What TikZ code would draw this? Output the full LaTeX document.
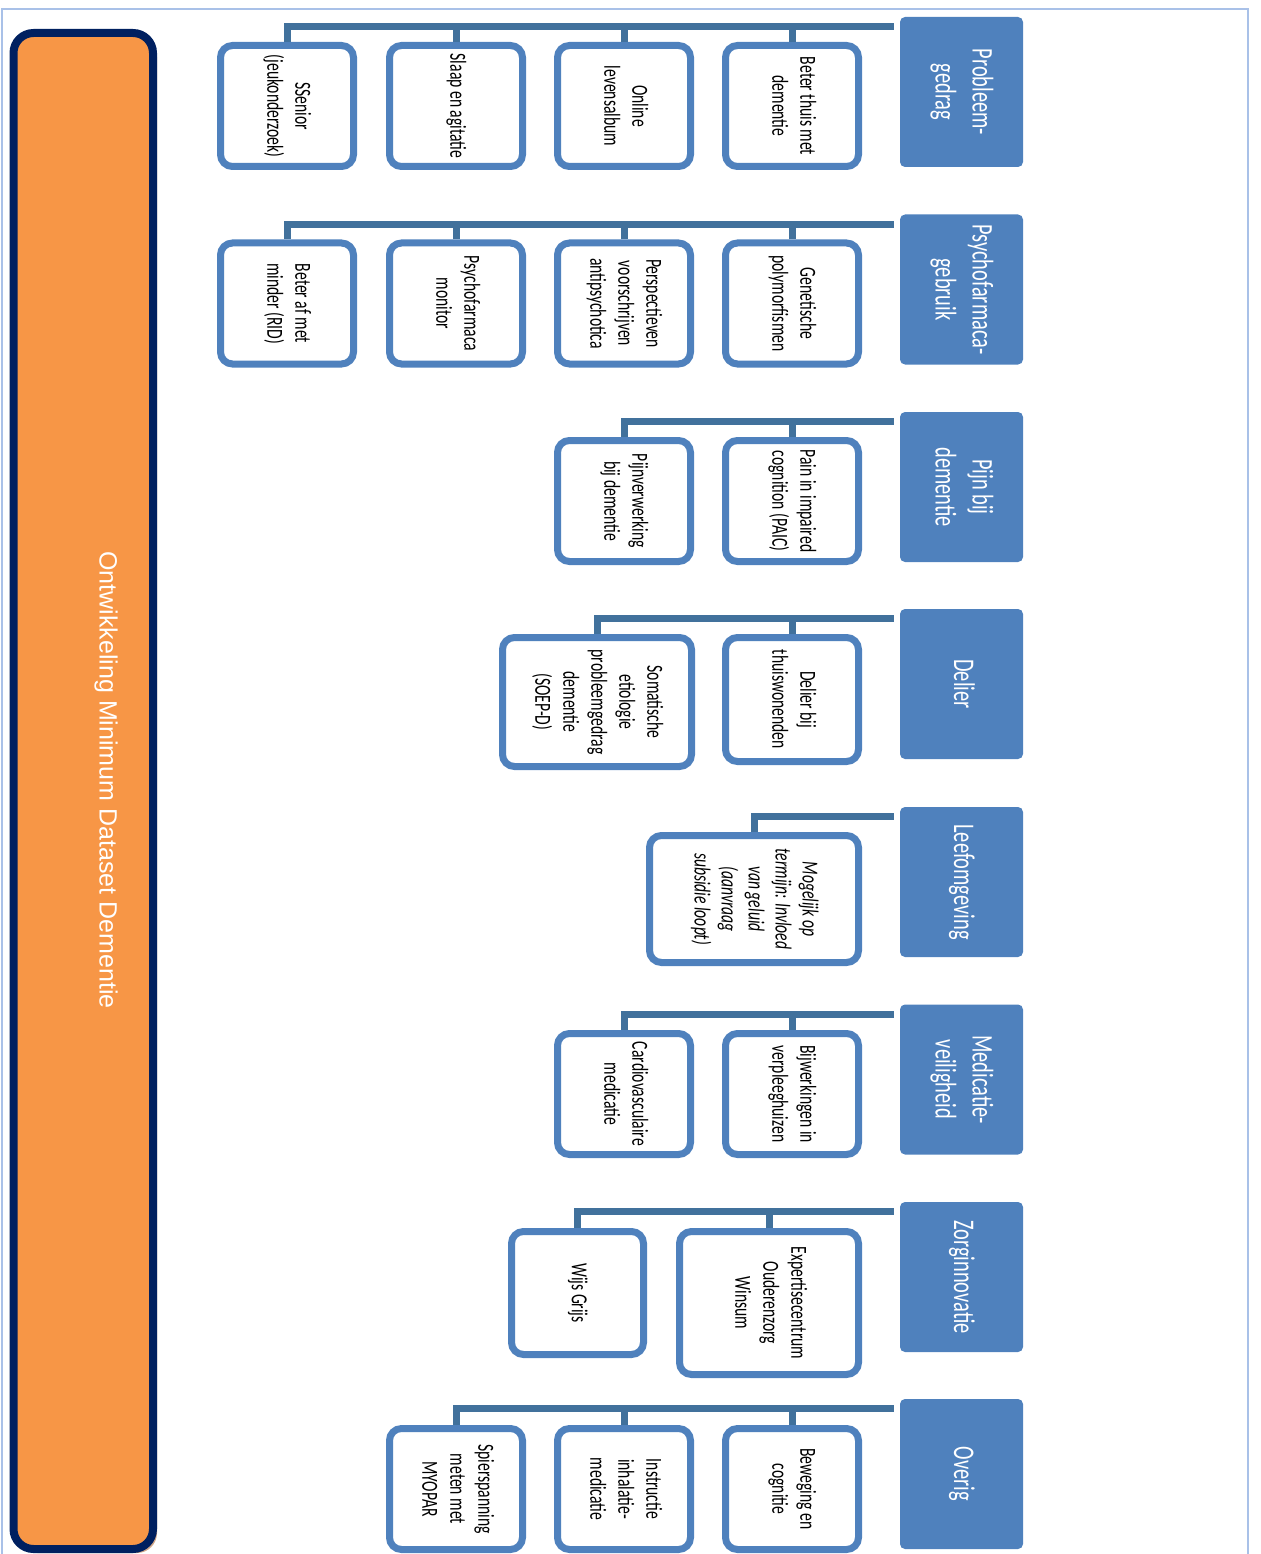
\documentclass[tikz,border=0pt]{standalone}
\usepackage{fontspec}
\setmainfont{Carlito}
\newfontfamily\condfont[FakeStretch=0.68]{Carlito}
\newfontfamily\titlefont{Liberation Sans}
\usetikzlibrary{calc,shadows}
\definecolor{catblue}{HTML}{4F81BD}
\definecolor{connblue}{HTML}{41719C}
\definecolor{frameblue}{HTML}{A9C1E8}
\definecolor{boxorange}{HTML}{F79646}
\definecolor{navyline}{HTML}{002060}
\definecolor{shadowtan}{HTML}{D2A889}
\newcommand{\rottext}[1]{\rotatebox{-90}{\begin{tabular}{@{}c@{}}#1\end{tabular}}}
\tikzset{
  catbox/.style={fill=catblue, rounded corners=5pt, minimum width=123pt, minimum height=150pt,
    inner sep=0pt, text=white, font=\condfont\fontsize{30}{37}\selectfont},
  subbox/.style={draw=catblue, line width=7pt, fill=white, rounded corners=12pt, inner sep=0pt,
    minimum width=133pt, minimum height=121pt, text=black, font=\condfont\fontsize{23}{28}\selectfont},
  conn/.style={draw=connblue, line width=7pt},
}
\begin{document}
\begin{tikzpicture}[x=1pt,y=-1pt]
\useasboundingbox (0,0) rectangle (1260,1554);
\draw[frameblue, line width=2pt] (2,1570) -- (2,9) -- (1248,9) -- (1248,1570);

% main box
\node[draw=navyline, line width=8pt, fill=boxorange, rounded corners=20pt,
  minimum width=139.5pt, minimum height=1516pt, inner sep=0pt,
  drop shadow={shadow xshift=4pt, shadow yshift=-4pt, fill=shadowtan, opacity=1}] (main) at (83.25,791) {};
\node[text=white, font=\titlefont\fontsize{25}{30}\selectfont, inner sep=0pt] (title) at (106,780)
  {\rotatebox{-90}{Ontwikkeling Minimum Dataset Dementie}};

% group 1
\node[catbox] (g1) at (961.5,92) {\rottext{Probleem-\\gedrag}};
\node[subbox] (a11) at (792,106) {\rottext{Beter thuis met\\dementie}};
\node[subbox] (a12) at (624,106) {\rottext{Online\\levensalbum}};
\node[subbox] (a13) at (456,106) {\rottext{Slaap en agitatie}};
\node[subbox] (a14) at (287,106) {\rottext{SSenior\\(jeukonderzoek)}};
\coordinate (b1) at ($(g1.north west)+(-6,10)$);
\draw[conn] (b1) -| (a14.north);
\foreach \c in {a11,a12,a13} \draw[conn] (\c.north) -- (\c.north |- b1);

% group 2
\node[catbox] (g2) at (961.5,289.5) {\rottext{Psychofarmaca-\\gebruik}};
\node[subbox] (a21) at (792,303.5) {\rottext{Genetische\\polymorfismen}};
\node[subbox] (a22) at (624,303.5) {\rottext{Perspectieven\\voorschrijven\\antipsychotica}};
\node[subbox] (a23) at (456,303.5) {\rottext{Psychofarmaca\\monitor}};
\node[subbox] (a24) at (287,303.5) {\rottext{Beter af met\\minder (RID)}};
\coordinate (b2) at ($(g2.north west)+(-6,10)$);
\draw[conn] (b2) -| (a24.north);
\foreach \c in {a21,a22,a23} \draw[conn] (\c.north) -- (\c.north |- b2);

% group 3
\node[catbox] (g3) at (961.5,487) {\rottext{Pijn bij\\dementie}};
\node[subbox] (a31) at (792,501) {\rottext{Pain in impaired\\cognition (PAIC)}};
\node[subbox] (a32) at (624,501) {\rottext{Pijnverwerking\\bij dementie}};
\coordinate (b3) at ($(g3.north west)+(-6,10)$);
\draw[conn] (b3) -| (a32.north);
\draw[conn] (a31.north) -- (a31.north |- b3);

% group 4
\node[catbox] (g4) at (961.5,684) {\rottext{Delier}};
\node[subbox, minimum height=124pt] (a41) at (792,699.5) {\rottext{Delier bij\\thuiswonenden}};
\node[subbox, minimum width=189pt, minimum height=129pt] (a42) at (597,702) {\rottext{Somatische\\etiologie\\probleemgedrag\\dementie\\(SOEP-D)}};
\coordinate (b4) at ($(g4.north west)+(-6,10)$);
\draw[conn] (b4) -| (a42.north);
\draw[conn] (a41.north) -- (a41.north |- b4);

% group 5
\node[catbox] (g5) at (961.5,882) {\rottext{Leefomgeving}};
\node[subbox, minimum width=209pt, minimum height=127pt, font=\condfont\itshape\fontsize{23}{27}\selectfont] (a51) at (754,899)
  {\rottext{Mogelijk op\\termijn: Invloed\\van geluid\\(aanvraag\\subsidie loopt)}};
\coordinate (b5) at ($(g5.north west)+(-6,10)$);
\draw[conn] (b5) -| (a51.north);

% group 6
\node[catbox] (g6) at (961.5,1079.5) {\rottext{Medicatie-\\veiligheid}};
\node[subbox] (a61) at (792,1094) {\rottext{Bijwerkingen in\\verpleeghuizen}};
\node[subbox] (a62) at (624,1094) {\rottext{Cardiovasculaire\\medicatie}};
\coordinate (b6) at ($(g6.north west)+(-6,10)$);
\draw[conn] (b6) -| (a62.north);
\draw[conn] (a61.north) -- (a61.north |- b6);

% group 7
\node[catbox] (g7) at (961.5,1277) {\rottext{Zorginnovatie}};
\node[subbox, minimum width=179pt, minimum height=143pt] (a71) at (769,1303) {\rottext{Expertisecentrum\\Ouderenzorg\\Winsum}};
\node[subbox, minimum width=132pt, minimum height=123pt] (a72) at (577.5,1293) {\rottext{Wijs Grijs}};
\coordinate (b7) at ($(g7.north west)+(-6,10)$);
\draw[conn] (b7) -| (a72.north);
\draw[conn] (a71.north) -- (a71.north |- b7);

% group 8
\node[catbox] (g8) at (961.5,1474) {\rottext{Overig}};
\node[subbox] (a81) at (792,1489) {\rottext{Beweging en\\cognitie}};
\node[subbox] (a82) at (624,1489) {\rottext{Instructie\\inhalatie-\\medicatie}};
\node[subbox] (a83) at (456,1489) {\rottext{Spierspanning\\meten met\\MYOPAR}};
\coordinate (b8) at ($(g8.north west)+(-6,10)$);
\draw[conn] (b8) -| (a83.north);
\foreach \c in {a81,a82} \draw[conn] (\c.north) -- (\c.north |- b8);
\end{tikzpicture}
\end{document}
